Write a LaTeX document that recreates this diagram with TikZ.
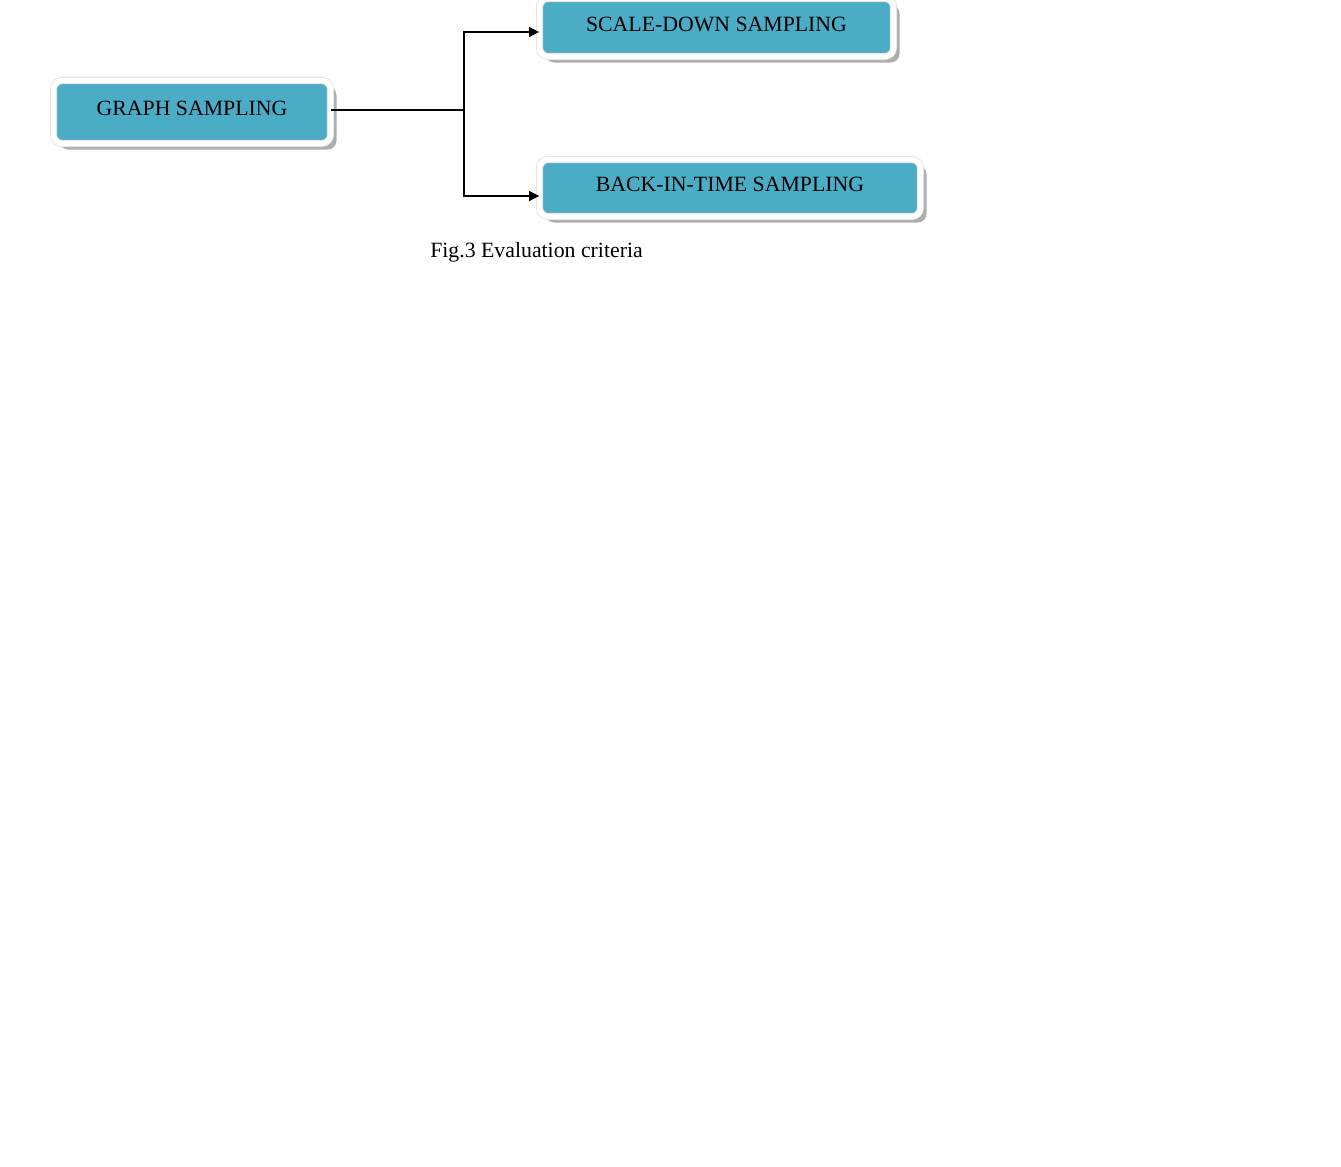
\documentclass[tikz,border=0pt]{standalone}
\usepackage{fontspec}
\setmainfont{Liberation Serif}
\usetikzlibrary{positioning,arrows.meta,shadows}

\definecolor{boxblue}{RGB}{75,172,198}

\begin{document}
\begin{tikzpicture}[
  font=\fontsize{12.4}{15}\selectfont,
  box/.style={rectangle, rounded corners=5pt, fill=boxblue, draw=black!15,
    line width=0.4pt, double=white, double distance=3.2pt,
    text height=8.2pt, text depth=4.2pt, inner sep=0pt,
    drop shadow={shadow xshift=0.12cm, shadow yshift=-0.12cm, fill=black!40, opacity=0.8}},
  arrow/.style={-{Triangle[length=0.2cm, width=0.2cm]}, line width=0.8pt}
]
\useasboundingbox (0,0) rectangle (26.82,-23.32);

% Boxes
\node[box, minimum width=5.54cm, minimum height=1.26cm] (gs) at (3.84,-2.24) {GRAPH SAMPLING};
\node[box, minimum width=7.08cm, minimum height=1.16cm] (sd) at (14.33,-0.55) {SCALE-DOWN SAMPLING};
\node[box, minimum width=7.62cm, minimum height=1.14cm] (bt) at (14.60,-3.76) {BACK-IN-TIME SAMPLING};

% Connectors
\coordinate (fork) at (9.28,-2.2);
\draw[line width=0.8pt] (gs.east |- fork) -- (fork);
\draw[arrow] (fork) |- ([yshift=-0.09cm]sd.west);
\draw[arrow] (fork) |- ([yshift=-0.16cm]bt.west);

% Caption
\node[anchor=base] (cap) at (10.73,-5.14) {Fig.3 Evaluation criteria};

\end{tikzpicture}
\end{document}
